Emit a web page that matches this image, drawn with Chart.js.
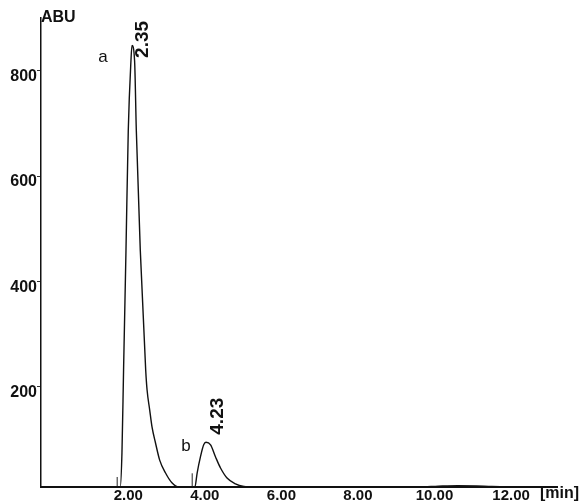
<!DOCTYPE html>
<html>
<head>
<meta charset="utf-8">
<script src="https://cdn.jsdelivr.net/npm/chart.js@4.4.1/dist/chart.umd.min.js"></script>
<style>
  html, body { margin: 0; padding: 0; background: #ffffff; }
  #c { display: block; }
</style>
</head>
<body>
<canvas id="c" width="581" height="504"></canvas>
<script>
// ---- data ----
const retentionTimes = [-0.28, 1.70, 1.79, 1.835, 1.877, 1.94, 2.00, 2.07, 2.097, 2.165, 2.21, 2.314, 2.455, 2.49, 2.56, 2.62, 2.71, 2.82, 2.97, 3.14, 3.32, 3.74, 3.80, 3.885, 3.97, 4.03, 4.15, 4.28, 4.41, 4.58, 4.80, 5.02, 5.25, 9.6, 10.1, 10.6, 11.1, 11.5, 13.2];
const abundance      = [10, 10, 10, 75, 232, 459, 687, 819, 848, 819, 687, 459, 232, 195, 156, 124, 94, 61, 37, 18, 10, 10, 37, 67, 90, 95, 90, 67, 46, 27, 16, 11, 10, 10, 11.5, 12.5, 12, 11, 10];

const peakNames   = ['a', 'b'];
const peakLabels  = ['2.35', '4.23'];
const peakApexT   = [2.097, 4.03];
const peakApexV   = [848, 95];
const startMarkT  = [1.71, 3.67];
const startMarkV  = [29, 36];
const baselineV   = 10;

const xTickValues = [2, 4, 6, 8, 10, 12];
const xTickLabels = ['2.00', '4.00', '6.00', '8.00', '10.00', '12.00'];
const yTickValues = [200, 400, 600, 800];
const yTickLabels = ['200', '400', '600', '800'];
const yAxisTitle  = 'ABU';
const xAxisUnit   = '[min]';

// ---- build datasets ----
const traceData = retentionTimes.map((t, i) => ({ x: t, y: abundance[i] }));
const markerSets = startMarkT.map((t, i) => ({
  data: [{ x: t, y: baselineV }, { x: t, y: startMarkV[i] }],
  borderColor: '#222', borderWidth: 1, pointRadius: 0, tension: 0, fill: false
}));

const annotate = {
  id: 'annotate',
  afterDraw(chart) {
    const ctx = chart.ctx, xs = chart.scales.x, ys = chart.scales.y;
    ctx.save();
    ctx.fillStyle = '#111';
    // axis title and unit
    ctx.font = 'bold 16px "Liberation Sans", Arial, sans-serif';
    ctx.textAlign = 'left'; ctx.textBaseline = 'middle';
    ctx.fillText(yAxisTitle, xs.left + 0, 18);
    ctx.fillText(xAxisUnit, xs.right - 17, 494);
    // peak retention labels (rotated) and letters
    const rotOff = [[11, -6], [12, -26]];
    const letOff = [[-29, 12], [-20, 4]];
    peakLabels.forEach((lab, i) => {
      const px = xs.getPixelForValue(peakApexT[i]);
      const py = ys.getPixelForValue(peakApexV[i]);
      ctx.save();
      ctx.translate(px + rotOff[i][0], py + rotOff[i][1]);
      ctx.rotate(-Math.PI / 2);
      ctx.font = 'bold 19px "Liberation Sans", Arial, sans-serif';
      ctx.textAlign = 'center'; ctx.textBaseline = 'middle';
      ctx.fillText(lab, 0, 0);
      ctx.restore();
      ctx.font = '17px "Liberation Sans", Arial, sans-serif';
      ctx.textAlign = 'center'; ctx.textBaseline = 'middle';
      ctx.fillText(peakNames[i], px + letOff[i][0], py + letOff[i][1]);
    });
    ctx.restore();
  }
};

new Chart(document.getElementById('c'), {
  type: 'line',
  data: {
    datasets: [{
      data: traceData,
      borderColor: '#111',
      borderWidth: 1.4,
      pointRadius: 0,
      cubicInterpolationMode: 'monotone',
      fill: false
    }].concat(markerSets)
  },
  options: {
    responsive: false,
    animation: false,
    events: [],
    layout: { padding: { top: 18, right: 24, left: 0, bottom: 0 } },
    plugins: { legend: { display: false }, tooltip: { enabled: false } },
    scales: {
      x: {
        type: 'linear', min: -0.28, max: 13.2,
        afterBuildTicks: s => { s.ticks = xTickValues.map(v => ({ value: v })); },
        afterFit: s => { s.height = 17; },
        grid: { display: true, drawOnChartArea: false, drawTicks: false },
        border: { display: true, color: '#111', width: 2 },
        ticks: {
          padding: 0, color: '#111', maxRotation: 0, autoSkip: false,
          font: { family: '"Liberation Sans", Arial, sans-serif', size: 15, weight: 'bold' },
          callback: v => { const i = xTickValues.indexOf(v); return i >= 0 ? xTickLabels[i] : ''; }
        }
      },
      y: {
        type: 'linear', min: 10, max: 900,
        afterBuildTicks: s => { s.ticks = yTickValues.map(v => ({ value: v })); },
        afterFit: s => { s.width = 41; },
        grid: { display: true, drawOnChartArea: false, drawTicks: true, tickLength: 4, color: '#333' },
        border: { display: true, color: '#111', width: 1.5 },
        ticks: {
          padding: 0, color: '#111', labelOffset: 6,
          font: { family: '"Liberation Sans", Arial, sans-serif', size: 16, weight: 'bold' },
          callback: v => { const i = yTickValues.indexOf(v); return i >= 0 ? yTickLabels[i] : ''; }
        }
      }
    }
  },
  plugins: [annotate]
});
</script>
</body>
</html>
